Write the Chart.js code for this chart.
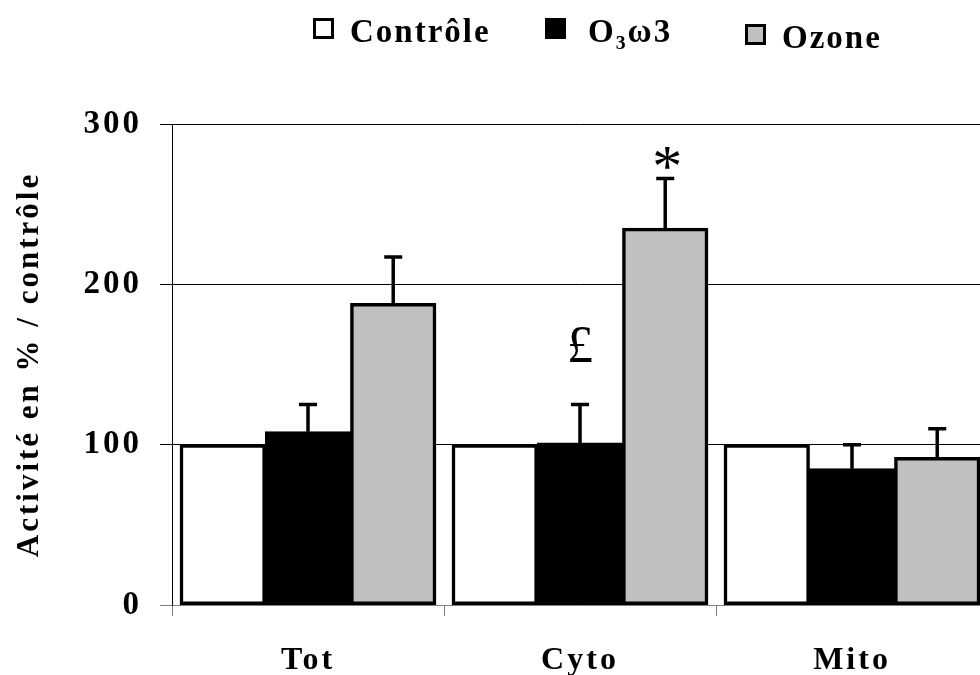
<!DOCTYPE html>
<html>
<head>
<meta charset="utf-8">
<script src="https://cdn.jsdelivr.net/npm/chart.js@4"></script>
<style>
html,body{margin:0;padding:0;background:#fff;overflow:hidden;width:980px;height:675px;}
canvas{display:block;}
</style>
</head>
<body>
<canvas id="c" width="1000" height="675" style="width:1000px;height:675px"></canvas>
<script>
const categories = ['Tot', 'Cyto', 'Mito'];
const seriesNames = ['Contrôle', 'O\u2083\u03c93', 'Ozone'];
const controle = [100, 100, 100];
const o3w3 = [108, 101, 85];
const ozone = [188, 235, 92];
const errControle = [0, 0, 0];
const errO3w3 = [17, 24, 15];
const errOzone = [29, 31, 18];
const yTicks = [0, 100, 200, 300];
const marks = [ {dataset: 1, index: 1, text: '£'}, {dataset: 2, index: 1, text: '*'} ];

const FONT = '"Liberation Serif", "Times New Roman", serif';
const SPACING = '3px';

const spacingPlugin = {
  id: 'spacing',
  beforeDraw(chart) { chart.ctx.letterSpacing = SPACING; },
  beforeDatasetsDraw(chart) { chart.ctx.letterSpacing = '0px'; }
};

const errorPlugin = {
  id: 'errors',
  afterDatasetsDraw(chart) {
    const ctx = chart.ctx;
    const y = chart.scales.y;
    ctx.save();
    ctx.strokeStyle = '#000';
    ctx.lineWidth = 3.5;
    ctx.lineCap = 'butt';
    chart.data.datasets.forEach((ds, di) => {
      const meta = chart.getDatasetMeta(di);
      ds.errors.forEach((e, i) => {
        if (!e) return;
        const el = meta.data[i];
        const top = y.getPixelForValue(ds.data[i] + e);
        ctx.beginPath();
        ctx.moveTo(el.x, el.y);
        ctx.lineTo(el.x, top);
        ctx.moveTo(el.x - 9, top);
        ctx.lineTo(el.x + 9, top);
        ctx.stroke();
      });
    });
    ctx.fillStyle = '#000';
    ctx.textAlign = 'center';
    ctx.textBaseline = 'alphabetic';
    marks.forEach(m => {
      const ds = chart.data.datasets[m.dataset];
      const el = chart.getDatasetMeta(m.dataset).data[m.index];
      const top = y.getPixelForValue(ds.data[m.index] + ds.errors[m.index]);
      if (m.text === '*') {
        ctx.font = '60px ' + FONT;
        ctx.fillText(m.text, el.x + 2, top + 7);
      } else {
        ctx.font = '52px ' + FONT;
        ctx.fillText(m.text, el.x, top - 43);
      }
    });
    ctx.restore();
  }
};

const legendPlugin = {
  id: 'customLegend',
  afterDraw(chart) {
    const ctx = chart.ctx;
    const pos = [ {x: 313, y: 18, tx: 350, ty: 42}, {x: 545, y: 18, tx: 588, ty: 42}, {x: 745, y: 24, tx: 782, ty: 48} ];
    const B = 21;
    ctx.save();
    ctx.letterSpacing = '2px';
    ctx.font = 'bold 33px ' + FONT;
    ctx.textBaseline = 'alphabetic';
    ctx.textAlign = 'left';
    chart.data.datasets.forEach((ds, i) => {
      const p = pos[i];
      ctx.fillStyle = ds.backgroundColor;
      ctx.fillRect(p.x, p.y, B, B);
      ctx.strokeStyle = '#000';
      ctx.lineWidth = 3;
      ctx.strokeRect(p.x + 1.5, p.y + 1.5, B - 3, B - 3);
      ctx.fillStyle = '#000';
      ctx.fillText(ds.label, p.tx, p.ty);
    });
    ctx.restore();
  }
};

new Chart(document.getElementById('c'), {
  type: 'bar',
  data: {
    labels: categories,
    datasets: [
      { label: seriesNames[0], data: controle, errors: errControle, backgroundColor: '#ffffff' },
      { label: seriesNames[1], data: o3w3, errors: errO3w3, backgroundColor: '#000000' },
      { label: seriesNames[2], data: ozone, errors: errOzone, backgroundColor: '#c0c0c0' }
    ]
  },
  options: {
    responsive: false,
    animation: false,
    events: [],
    layout: { padding: { left: 0, top: 124, right: 12, bottom: 0 } },
    datasets: { bar: { categoryPercentage: 0.94, barPercentage: 1, borderColor: '#000', borderWidth: 3.5, borderSkipped: false, inflateAmount: 0.5 } },
    plugins: { legend: { display: false }, tooltip: { enabled: false } },
    scales: {
      x: {
        afterFit(s) { s.height = 70; },
        grid: { offset: true, drawOnChartArea: false, drawTicks: true, tickLength: 11, color: '#808080', lineWidth: 1 },
        border: { display: true, color: '#808080', width: 1 },
        ticks: { color: '#000', font: { family: FONT, size: 32, weight: 'bold' }, padding: 26, maxRotation: 0, autoSkip: false }
      },
      y: {
        min: 0, max: 300,
        afterFit(s) { s.width = 172; },
        afterBuildTicks(s) { s.ticks = yTicks.map(v => ({ value: v })); },
        grid: { color: c => (c.tick && c.tick.value === 0) ? '#808080' : '#000', lineWidth: 1, tickLength: 12 },
        border: { display: true, color: '#000', width: 1 },
        ticks: { color: '#000', font: { family: FONT, size: 33, weight: 'bold' }, padding: 18 },
        title: { display: true, text: 'Activité en % / contrôle', color: '#000', font: { family: FONT, size: 31, weight: 'bold' }, padding: { top: 11, bottom: 0 } }
      }
    }
  },
  plugins: [spacingPlugin, errorPlugin, legendPlugin]
});
</script>
</body>
</html>
